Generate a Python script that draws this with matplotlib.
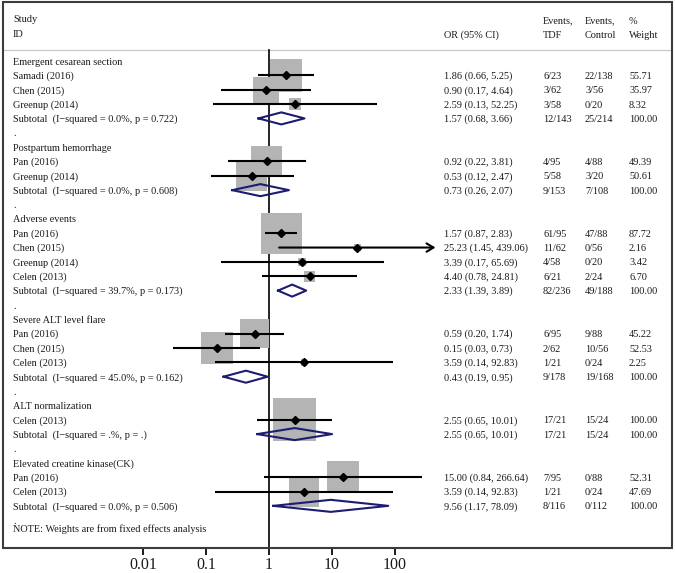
import numpy as np
import matplotlib
matplotlib.use("Agg")
import matplotlib.pyplot as plt
from matplotlib.patches import Rectangle

# ---- data ----
groups = ["Emergent cesarean section", "Postpartum hemorrhage", "Adverse events",
          "Severe ALT level flare", "ALT normalization", "Elevated creatine kinase(CK)"]

study_group = [0, 0, 0, 1, 1, 2, 2, 2, 2, 3, 3, 3, 4, 5, 5]
study_names = ["Samadi (2016)", "Chen (2015)", "Greenup (2014)",
               "Pan (2016)", "Greenup (2014)",
               "Pan (2016)", "Chen (2015)", "Greenup (2014)", "Celen (2013)",
               "Pan (2016)", "Chen (2015)", "Celen (2013)",
               "Celen (2013)",
               "Pan (2016)", "Celen (2013)"]
or_est = [1.86, 0.90, 2.59, 0.92, 0.53, 1.57, 25.23, 3.39, 4.40, 0.59, 0.15, 3.59, 2.55, 15.00, 3.59]
ci_lo = [0.66, 0.17, 0.13, 0.22, 0.12, 0.87, 1.45, 0.17, 0.78, 0.20, 0.03, 0.14, 0.65, 0.84, 0.14]
ci_hi = [5.25, 4.64, 52.25, 3.81, 2.47, 2.83, 439.06, 65.69, 24.81, 1.74, 0.73, 92.83, 10.01, 266.64, 92.83]
ev_tdf = ["6/23", "3/62", "3/58", "4/95", "5/58", "61/95", "11/62", "4/58", "6/21",
          "6/95", "2/62", "1/21", "17/21", "7/95", "1/21"]
ev_ctrl = ["22/138", "3/56", "0/20", "4/88", "3/20", "47/88", "0/56", "0/20", "2/24",
           "9/88", "10/56", "0/24", "15/24", "0/88", "0/24"]
weights = [55.71, 35.97, 8.32, 49.39, 50.61, 87.72, 2.16, 3.42, 6.70, 45.22, 52.53, 2.25,
           100.00, 52.31, 47.69]

sub_het = ["I\u2212squared = 0.0%, p = 0.722", "I\u2212squared = 0.0%, p = 0.608",
           "I\u2212squared = 39.7%, p = 0.173", "I\u2212squared = 45.0%, p = 0.162",
           "I\u2212squared = .%, p = .", "I\u2212squared = 0.0%, p = 0.506"]
sub_or = [1.57, 0.73, 2.33, 0.43, 2.55, 9.56]
sub_lo = [0.68, 0.26, 1.39, 0.19, 0.65, 1.17]
sub_hi = [3.66, 2.07, 3.89, 0.95, 10.01, 78.09]
sub_tdf = ["12/143", "9/153", "82/236", "9/178", "17/21", "8/116"]
sub_ctrl = ["25/214", "7/108", "49/188", "19/168", "15/24", "0/112"]

xticks = [0.01, 0.1, 1, 10, 100]
xtick_labels = ["0.01", "0.1", "1", "10", "100"]

# ---- layout (pixels of a 675x573 image) ----
W, H = 675, 573
X0, DEC = 269, 63.0      # pixel of OR=1, pixels per decade
Y0, ROW = 61, 14.35      # pixel of first row, row height


def px2x(px):
    return 10 ** ((px - X0) / DEC)


def px2r(py):
    return (py - Y0) / ROW


plt.rcParams["font.family"] = ["Liberation Serif", "DejaVu Serif"]
fs = 7.4
tc = "#1a1a1a"

fig = plt.figure(figsize=(W / 100, H / 100), dpi=100)
ax = fig.add_axes([0, 0, 1, 1])
ax.set_xscale("log")
ax.set_xlim(px2x(0), px2x(W))
ax.set_ylim(px2r(H), px2r(0))
for s in ["top", "left", "right"]:
    ax.spines[s].set_visible(False)
ax.spines["bottom"].set_position(("data", px2r(548)))
ax.spines["bottom"].set_color("none")
ax.set_xticks(xticks)
ax.set_xticklabels(xtick_labels)
ax.xaxis.set_minor_locator(matplotlib.ticker.NullLocator())
ax.tick_params(axis="x", direction="out", length=5.2, width=1.4, pad=1.5,
               labelsize=11.5, colors=tc)
ax.set_yticks([])

# assign rows
rows_study, rows_sub, rows_head, rows_dot = [], [], [], []
r = 0
for g in range(len(groups)):
    rows_head.append(r)
    r += 1
    for i, sg in enumerate(study_group):
        if sg == g:
            rows_study.append(r)
            r += 1
    rows_sub.append(r)
    r += 1
    rows_dot.append(r)
    r += 1

rows_study = np.array(rows_study, dtype=float)
bl = 0.25  # baseline offset in rows

# frame and header line
ax.add_patch(Rectangle((3 / W, 1 - 548 / H), 669 / W, 546 / H, transform=ax.transAxes,
                       fill=False, edgecolor="#3c3c3c", lw=1.5, clip_on=False, zorder=6))
ax.plot([3 / W, 672 / W], [1 - 50 / H, 1 - 50 / H], transform=ax.transAxes,
        color="#c8c8c8", lw=0.9, zorder=1)

# null line
ax.plot([1, 1], [px2r(50), px2r(548)], color="black", lw=1.2, zorder=1)

# study boxes, CIs and points
ax.scatter(or_est, rows_study, marker="s", s=np.array(weights) * 9.8,
           color="#b4b4b4", linewidths=0, zorder=2)
for i in range(len(or_est)):
    if ci_hi[i] > 400:
        ax.annotate("", xy=(ci_hi[i], rows_study[i]), xytext=(ci_lo[i], rows_study[i]),
                    arrowprops=dict(arrowstyle="->,head_length=0.5,head_width=0.3",
                                    lw=1.5, color="black", shrinkA=0, shrinkB=0),
                    zorder=3)
    else:
        ax.plot([ci_lo[i], ci_hi[i]], [rows_study[i]] * 2, color="black", lw=1.5,
                zorder=3, solid_capstyle="butt")
ax.plot(or_est, rows_study, "D", ms=3.6, color="black", zorder=4)

# subtotal diamonds
h = 0.42
for g in range(len(groups)):
    rr = rows_sub[g]
    ax.plot([sub_lo[g], sub_or[g], sub_hi[g], sub_or[g], sub_lo[g]],
            [rr, rr - h, rr, rr + h, rr], color="#1c1d70", lw=1.5, zorder=5)

# headers
ax.text(px2x(13), px2r(18) + bl, "Study", fontsize=fs, color=tc, va="baseline")
ax.text(px2x(13), px2r(33) + bl, "ID", fontsize=fs, color=tc, va="baseline")
ax.text(px2x(444), px2r(34) + bl, "OR (95% CI)", fontsize=fs, color=tc, va="baseline")
ax.text(px2x(543), px2r(20) + bl, "Events,", fontsize=fs, color=tc, va="baseline")
ax.text(px2x(543), px2r(34) + bl, "TDF", fontsize=fs, color=tc, va="baseline")
ax.text(px2x(585), px2r(20) + bl, "Events,", fontsize=fs, color=tc, va="baseline")
ax.text(px2x(585), px2r(34) + bl, "Control", fontsize=fs, color=tc, va="baseline")
ax.text(px2x(629), px2r(20) + bl, "%", fontsize=fs, color=tc, va="baseline")
ax.text(px2x(629), px2r(34) + bl, "Weight", fontsize=fs, color=tc, va="baseline")

cols = [px2x(444), px2x(543), px2x(585), px2x(629)]
for g in range(len(groups)):
    ax.text(px2x(13), rows_head[g] + bl, groups[g], fontsize=fs, color=tc, va="baseline")
    ax.text(px2x(13), rows_dot[g] + bl, ".", fontsize=fs, color=tc, va="baseline")
    rr = rows_sub[g]
    ax.text(px2x(13), rr + bl, "Subtotal  (" + sub_het[g] + ")", fontsize=fs, color=tc,
            va="baseline")
    vals = ["%.2f (%.2f, %.2f)" % (sub_or[g], sub_lo[g], sub_hi[g]), sub_tdf[g],
            sub_ctrl[g], "100.00"]
    for c, v in zip(cols, vals):
        ax.text(c, rr + bl, v, fontsize=fs, color=tc, va="baseline")

for i in range(len(or_est)):
    rr = rows_study[i]
    ax.text(px2x(13), rr + bl, study_names[i], fontsize=fs, color=tc, va="baseline")
    vals = ["%.2f (%.2f, %.2f)" % (or_est[i], ci_lo[i], ci_hi[i]), ev_tdf[i], ev_ctrl[i],
            "%.2f" % weights[i]]
    for c, v in zip(cols, vals):
        ax.text(c, rr + bl, v, fontsize=fs, color=tc, va="baseline")

ax.text(px2x(13), px2r(528) + bl, "NOTE: Weights are from fixed effects analysis",
        fontsize=fs, color=tc, va="baseline")

fig.savefig("out.png", dpi=100)
